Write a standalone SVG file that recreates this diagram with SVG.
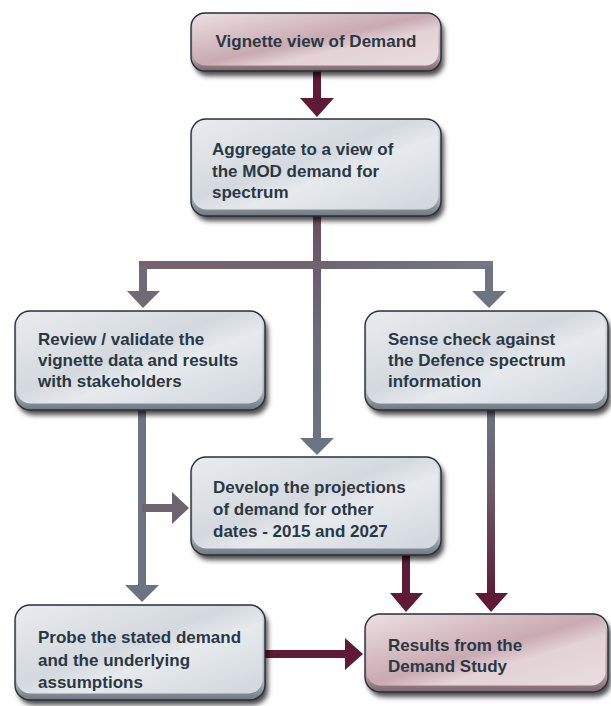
<svg xmlns="http://www.w3.org/2000/svg" width="611" height="706" viewBox="0 0 611 706">
<defs>
<style>
.t{font-family:"Liberation Sans",Arial,sans-serif;font-weight:bold;font-size:17px;fill:#2a3844}
.edge{fill:none;stroke:#27313a;stroke-width:1.4}
.mar{fill:#5f1b36}
.marl{stroke:#5f1b36;stroke-width:8;fill:none}
.gry{fill:#6b7581}
.gryl{stroke:#6b7581;stroke-width:8;fill:none}
</style>
<filter id="sh" x="-10%" y="-10%" width="130%" height="140%">
<feDropShadow dx="3" dy="5" stdDeviation="2.5" flood-color="#000" flood-opacity="0.7"/>
</filter>
<linearGradient id="gface" x1="0" y1="0" x2="1" y2="1">
<stop offset="0" stop-color="#e9ecef"/>
<stop offset="0.45" stop-color="#d3d9de"/>
<stop offset="0.6" stop-color="#e6eaed"/>
<stop offset="1" stop-color="#cfd6dc"/>
</linearGradient>
<linearGradient id="pface" x1="0" y1="0" x2="1" y2="1">
<stop offset="0" stop-color="#ecdfe2"/>
<stop offset="0.5" stop-color="#c9aab1"/>
<stop offset="0.65" stop-color="#e3d2d6"/>
<stop offset="1" stop-color="#e9dde0"/>
</linearGradient>
<linearGradient id="gbev" x1="0" y1="0" x2="0" y2="1">
<stop offset="0" stop-color="#cfd5da"/>
<stop offset="0.8" stop-color="#aeb6bd"/>
<stop offset="1" stop-color="#6f7780"/>
</linearGradient>
<linearGradient id="pbev" x1="0" y1="0" x2="0" y2="1">
<stop offset="0" stop-color="#d9c6cb"/>
<stop offset="0.8" stop-color="#b59aa1"/>
<stop offset="1" stop-color="#7a646a"/>
</linearGradient>
<linearGradient id="vmix" gradientUnits="userSpaceOnUse" x1="0" y1="216" x2="0" y2="440">
<stop offset="0" stop-color="#6a4f60"/>
<stop offset="0.5" stop-color="#6c6a78"/>
<stop offset="1" stop-color="#6b7581"/>
</linearGradient>
<linearGradient id="hmix" gradientUnits="userSpaceOnUse" x1="140" y1="0" x2="495" y2="0">
<stop offset="0" stop-color="#76616d"/>
<stop offset="0.5" stop-color="#6f6471"/>
<stop offset="1" stop-color="#737986"/>
</linearGradient>
<linearGradient id="smix" gradientUnits="userSpaceOnUse" x1="0" y1="410" x2="0" y2="594">
<stop offset="0" stop-color="#6b7581"/>
<stop offset="0.45" stop-color="#6a5a6a"/>
<stop offset="1" stop-color="#5f1b36"/>
</linearGradient>
</defs>

<g id="connectors">
<line class="marl" x1="317" y1="70" x2="317" y2="100"/>
<polygon class="mar" points="300,98 334,98 317,117"/>
<line x1="317" y1="216" x2="317" y2="440" stroke="url(#vmix)" stroke-width="8"/>
<polygon class="gry" points="300,438 334,438 317,455"/>
<line x1="139" y1="265" x2="493" y2="265" stroke="url(#hmix)" stroke-width="8"/>
<line x1="143" y1="265" x2="143" y2="293" stroke="#716a76" stroke-width="8"/>
<polygon points="127,291 160,291 143,308" fill="#6f6a75"/>
<line x1="489" y1="265" x2="489" y2="293" stroke="#6e7581" stroke-width="8"/>
<polygon class="gry" points="472,291 506,291 489,308"/>
<line class="gryl" x1="142" y1="410" x2="142" y2="587"/>
<polygon class="gry" points="125,585 159,585 142,602"/>
<line x1="142" y1="508" x2="174" y2="508" stroke="#6d6470" stroke-width="8"/>
<polygon points="172,492 172,524 189,508" fill="#6d6470"/>
<line class="marl" x1="406" y1="555" x2="406" y2="595"/>
<polygon class="mar" points="390,593 423,593 406,612"/>
<line x1="491" y1="410" x2="491" y2="595" stroke="url(#smix)" stroke-width="8"/>
<polygon class="mar" points="475,593 508,593 491,612"/>
<line class="marl" x1="265" y1="654" x2="347" y2="654"/>
<polygon class="mar" points="345,638 345,670 363,654"/>
</g>

<g id="n1">
<rect x="191" y="13" width="250" height="58" rx="14" fill="url(#pbev)" filter="url(#sh)"/>
<rect x="192.5" y="13.5" width="246" height="52" rx="13" fill="url(#pface)"/>
<rect x="191" y="13" width="250" height="58" rx="14" class="edge"/>
<text class="t" x="316" y="47" text-anchor="middle">Vignette view of Demand</text>
</g>

<g id="n2">
<rect x="191" y="119" width="250" height="97" rx="15" fill="url(#gbev)" filter="url(#sh)"/>
<rect x="192.5" y="119.5" width="246" height="90" rx="14" fill="url(#gface)"/>
<rect x="191" y="119" width="250" height="97" rx="15" class="edge"/>
<text class="t" x="212" y="155">Aggregate to a view of</text>
<text class="t" x="212" y="177">the MOD demand for</text>
<text class="t" x="212" y="198">spectrum</text>
</g>

<g id="n3">
<rect x="15" y="311" width="250" height="99" rx="15" fill="url(#gbev)" filter="url(#sh)"/>
<rect x="16.5" y="311.5" width="246" height="92" rx="14" fill="url(#gface)"/>
<rect x="15" y="311" width="250" height="99" rx="15" class="edge"/>
<text class="t" x="38" y="345">Review / validate the</text>
<text class="t" x="38" y="366">vignette data and results</text>
<text class="t" x="38" y="387">with stakeholders</text>
</g>

<g id="n4">
<rect x="365" y="311" width="243" height="99" rx="15" fill="url(#gbev)" filter="url(#sh)"/>
<rect x="366.5" y="311.5" width="239" height="92" rx="14" fill="url(#gface)"/>
<rect x="365" y="311" width="243" height="99" rx="15" class="edge"/>
<text class="t" x="388" y="345">Sense check against</text>
<text class="t" x="388" y="366">the Defence spectrum</text>
<text class="t" x="388" y="387">information</text>
</g>

<g id="n5">
<rect x="191" y="457" width="250" height="98" rx="15" fill="url(#gbev)" filter="url(#sh)"/>
<rect x="192.5" y="457.5" width="246" height="91" rx="14" fill="url(#gface)"/>
<rect x="191" y="457" width="250" height="98" rx="15" class="edge"/>
<text class="t" x="213" y="493">Develop the projections</text>
<text class="t" x="213" y="515">of demand for other</text>
<text class="t" x="213" y="537">dates - 2015 and 2027</text>
</g>

<g id="n6">
<rect x="15" y="605" width="250" height="95" rx="15" fill="url(#gbev)" filter="url(#sh)"/>
<rect x="16.5" y="605.5" width="246" height="88" rx="14" fill="url(#gface)"/>
<rect x="15" y="605" width="250" height="95" rx="15" class="edge"/>
<text class="t" x="38" y="643">Probe the stated demand</text>
<text class="t" x="38" y="666">and the underlying</text>
<text class="t" x="38" y="688">assumptions</text>
</g>

<g id="n7">
<rect x="365" y="614" width="243" height="78" rx="15" fill="url(#pbev)" filter="url(#sh)"/>
<rect x="366.5" y="614.5" width="239" height="71" rx="14" fill="url(#pface)"/>
<rect x="365" y="614" width="243" height="78" rx="15" class="edge"/>
<text class="t" x="388" y="651">Results from the</text>
<text class="t" x="388" y="672">Demand Study</text>
</g>
</svg>
